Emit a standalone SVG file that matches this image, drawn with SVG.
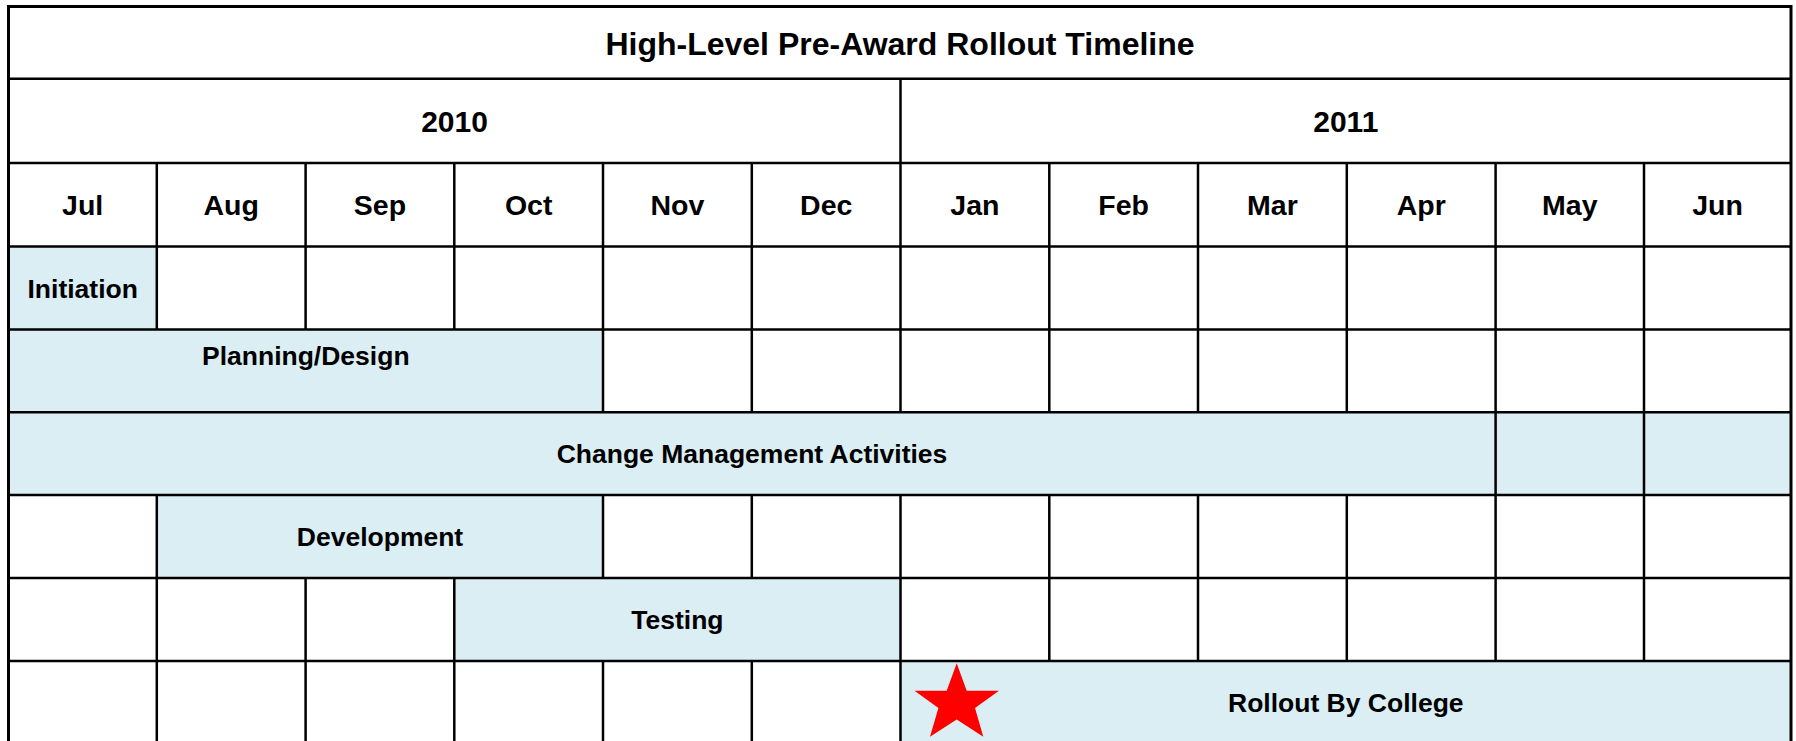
<svg xmlns="http://www.w3.org/2000/svg" width="1796" height="741" viewBox="0 0 1796 741">
<style>
.t{font-family:"Liberation Sans",Arial,sans-serif;font-weight:bold;fill:#000;text-anchor:middle}
.h{font-size:32px}
.y{font-size:30px}
.m{font-size:28.5px}
.b{font-size:26.5px}
.bar{fill:#DAEEF3}
.ln{stroke:#000;stroke-width:2.5;fill:none}
.ol{stroke:#000;stroke-width:3;fill:none}
</style>
<rect x="0" y="0" width="1796" height="741" fill="#fff"/>
<g id="bars">
<rect class="bar" x="8.5" y="246.5" width="148.3" height="83"/>
<rect class="bar" x="8.5" y="329.5" width="594.5" height="82.8"/>
<rect class="bar" x="8.5" y="412.3" width="1782.5" height="82.7"/>
<rect class="bar" x="156.8" y="495" width="446.2" height="83"/>
<rect class="bar" x="454.3" y="578" width="446.2" height="83"/>
<rect class="bar" x="900.5" y="661" width="890.5" height="83"/>
</g>
<g id="grid">
<path class="ln" d="M8.5 78.7H1791M8.5 163H1791M8.5 246.5H1791M8.5 329.5H1791M8.5 412.3H1791M8.5 495H1791M8.5 578H1791M8.5 661H1791"/>
<path class="ln" d="M900.5 78.7V163"/>
<path class="ln" d="M156.8 163V329.5M305.6 163V329.5M454.3 163V329.5M603 163V412.3M751.8 163V412.3M900.5 163V412.3M1049.3 163V412.3M1198 163V412.3M1346.8 163V412.3M1495.6 163V661M1644 163V661"/>
<path class="ln" d="M156.8 495V741M603 495V578M751.8 495V578M900.5 495V741M1049.3 495V661M1198 495V661M1346.8 495V661M305.6 578V741M454.3 578V741M603 661V741M751.8 661V741"/>
<path class="ol" d="M8.5 741V6.5H1791V741"/>
</g>
<g id="title"><text class="t h" x="900" y="54.5">High-Level Pre-Award Rollout Timeline</text></g>
<g id="years">
<text class="t y" x="454.5" y="131.5">2010</text>
<text class="t y" x="1345.8" y="131.5">2011</text>
</g>
<g id="months">
<text class="t m" x="82.7" y="215">Jul</text>
<text class="t m" x="231.2" y="215">Aug</text>
<text class="t m" x="380" y="215">Sep</text>
<text class="t m" x="528.7" y="215">Oct</text>
<text class="t m" x="677.4" y="215">Nov</text>
<text class="t m" x="826.2" y="215">Dec</text>
<text class="t m" x="974.9" y="215">Jan</text>
<text class="t m" x="1123.7" y="215">Feb</text>
<text class="t m" x="1272.4" y="215">Mar</text>
<text class="t m" x="1421.2" y="215">Apr</text>
<text class="t m" x="1569.8" y="215">May</text>
<text class="t m" x="1717.5" y="215">Jun</text>
</g>
<g id="initiation"><text class="t b" x="82.7" y="297.5">Initiation</text></g>
<g id="planning"><text class="t b" x="305.8" y="365">Planning/Design</text></g>
<g id="change-management"><text class="t b" x="752" y="463">Change Management Activities</text></g>
<g id="development"><text class="t b" x="380" y="546">Development</text></g>
<g id="testing"><text class="t b" x="677.4" y="629">Testing</text></g>
<g id="rollout">
<polygon fill="#FF0000" points="956.7,663.3 966.7,690.7 999,690.7 975,708 983.3,736.7 956.7,719.4 930,736.7 938.4,708 914.5,690.7 946.7,690.7"/>
<text class="t b" x="1345.8" y="712">Rollout By College</text>
</g>
</svg>
